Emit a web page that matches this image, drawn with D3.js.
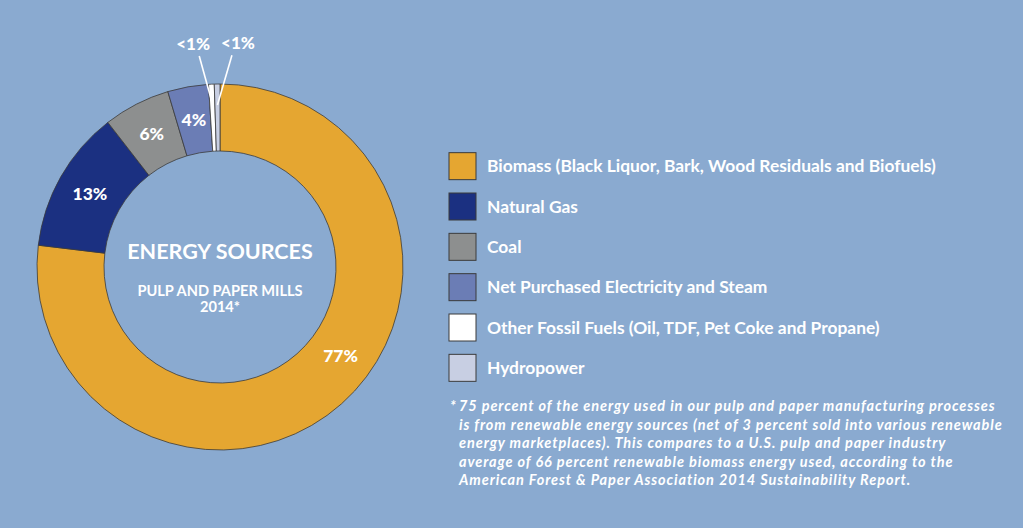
<!DOCTYPE html>
<html>
<head>
<meta charset="utf-8">
<script src="https://cdn.jsdelivr.net/npm/d3@7"></script>
<style>
  html, body { margin: 0; padding: 0; background: #8aaad0; }
  svg { display: block; }
  text { font-family: Lato, "Open Sans", sans-serif; fill: #fff; }
</style>
</head>
<body>
<div id="chart"></div>
<script>
// Daten
const categories = [
  "Biomass (Black Liquor, Bark, Wood Residuals and Biofuels)",
  "Natural Gas",
  "Coal",
  "Net Purchased Electricity and Steam",
  "Other Fossil Fuels (Oil, TDF, Pet Coke and Propane)",
  "Hydropower"
];
const shares = [76.9, 12.6, 5.9, 3.6, 0.5, 0.5];
const shareLabels = ["77%", "13%", "6%", "4%", "<1%", "<1%"];
const colors = ["#e5a631", "#1b3081", "#8d8f8f", "#6b7db5", "#ffffff", "#c8cfe3"];

const titleLines = ["ENERGY SOURCES", "PULP AND PAPER MILLS", "2014*"];
const footnote = [
  "75 percent of the energy used in our pulp and paper manufacturing processes",
  "is from renewable energy sources (net of 3 percent sold into various renewable",
  "energy marketplaces). This compares to a U.S. pulp and paper industry",
  "average of 66 percent renewable biomass energy used, according to the",
  "American Forest & Paper Association 2014 Sustainability Report."
];

function createDonut(selector) {
    const width = 1023;
    const height = 528;
    const cx = 220, cy = 267;
    const outerR = 183, innerR = 116;

    const svg = d3.select(selector)
        .append("svg")
        .attr("width", width)
        .attr("height", height);

    svg.append("rect")
        .attr("width", width)
        .attr("height", height)
        .attr("fill", "#8aaad0");

    const data = categories.map((c, i) => ({name: c, value: shares[i], label: shareLabels[i], color: colors[i]}));

    const pie = d3.pie()
        .value(d => d.value)
        .sort(null);

    const arc = d3.arc()
        .innerRadius(innerR)
        .outerRadius(outerR);

    const arcs = pie(data);

    const g = svg.append("g")
        .attr("transform", `translate(${cx},${cy})`);

    // Segmente
    g.selectAll(".slice")
        .data(arcs)
        .join("path")
        .attr("class", "slice")
        .attr("d", arc)
        .attr("fill", d => d.data.color)
        .attr("stroke", "#3b3b3b")
        .attr("stroke-width", 0.8);

    // Polar -> kartesisch (Winkel ab 12 Uhr im Uhrzeigersinn)
    const polar = (a, r) => [r * Math.sin(a), -r * Math.cos(a)];

    // Beschriftungen innerhalb des Rings
    const labelR = (innerR + outerR) / 2;
    const alongSlice = [0.456, 0.5, 0.5, 0.5];
    g.selectAll(".inner-label")
        .data(arcs.filter(d => d.data.value >= 1))
        .join("text")
        .attr("class", "inner-label")
        .attr("text-anchor", "middle")
        .attr("dy", "0.36em")
        .attr("transform", (d, i) => {
            const a = d.startAngle + (d.endAngle - d.startAngle) * alongSlice[i];
            const p = polar(a, labelR);
            return `translate(${p[0]},${p[1]})`;
        })
        .style("font-size", "17.5px")
        .style("font-weight", 900)
        .text(d => d.data.label);

    // Kleine Segmente: Label außen mit Führungslinie
    const small = arcs.filter(d => d.data.value < 1);
    const lineShift = [-0.051, 0.072];
    const labelShift = [-0.076, 0.098];
    const lineEndR = [164, 162];
    small.forEach((d, i) => {
        const mid = (d.startAngle + d.endAngle) / 2;
        const start = polar(mid + lineShift[i], 212);
        const end = polar(mid, lineEndR[i]);
        g.append("line")
            .attr("x1", start[0]).attr("y1", start[1])
            .attr("x2", end[0]).attr("y2", end[1])
            .attr("stroke", "#fff")
            .attr("stroke-width", 1.6);
        const t = polar(mid + labelShift[i], 219);
        g.append("text")
            .attr("x", t[0])
            .attr("y", t[1])
            .attr("text-anchor", "middle")
            .style("font-size", "17px")
            .style("font-weight", 900)
            .text(d.data.label);
    });

    // Titel in der Mitte
    g.append("text")
        .attr("text-anchor", "middle")
        .attr("y", -8)
        .style("font-size", "21.5px")
        .style("font-weight", 700)
        .text(titleLines[0]);
    g.selectAll(".subtitle")
        .data(titleLines.slice(1))
        .join("text")
        .attr("class", "subtitle")
        .attr("text-anchor", "middle")
        .attr("y", (d, i) => 29 + i * 16)
        .style("font-size", "14.6px")
        .style("font-weight", 700)
        .text(d => d);

    // Legende
    const legendY = d3.scaleBand()
        .domain(categories)
        .range([146, 388])
        .paddingInner(0);

    const legend = svg.append("g")
        .attr("transform", "translate(449,0)");

    const rows = legend.selectAll(".legend-row")
        .data(data)
        .join("g")
        .attr("class", "legend-row")
        .attr("transform", d => `translate(0,${legendY(d.name) + legendY.bandwidth() / 2})`);

    rows.append("rect")
        .attr("x", 0)
        .attr("y", -13.5)
        .attr("width", 27)
        .attr("height", 27)
        .attr("fill", d => d.color)
        .attr("stroke", "#3b3b3b")
        .attr("stroke-width", 1);

    rows.append("text")
        .attr("x", 38)
        .attr("dy", "0.36em")
        .style("font-size", "17.4px")
        .style("font-weight", 700)
        .text(d => d.name);

    // Fußnote
    const note = svg.append("g")
        .attr("transform", "translate(450,411)")
        .style("font-size", "14.5px")
        .style("font-weight", 700)
        .style("font-style", "italic")
        .style("letter-spacing", "0.9px");
    note.append("text")
        .attr("x", 0)
        .attr("y", 0)
        .text("*");
    note.selectAll(".note-line")
        .data(footnote)
        .join("text")
        .attr("class", "note-line")
        .attr("x", 9)
        .attr("y", (d, i) => i * 18.5)
        .text(d => d);
}

createDonut("#chart");
</script>
</body>
</html>
